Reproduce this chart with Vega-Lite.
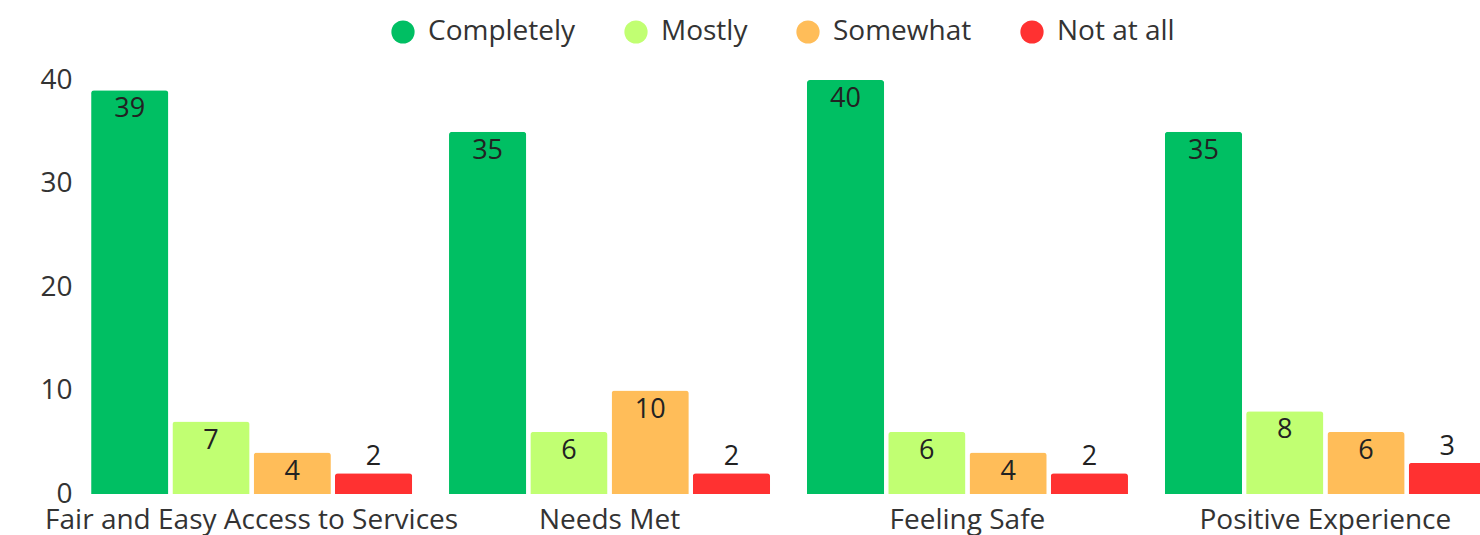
{
  "$schema": "https://vega.github.io/schema/vega-lite/v6.json",
  "width": 1400,
  "height": 414,
  "autosize": {"type": "none"},
  "padding": {"left": 80, "top": 80, "right": 0, "bottom": 41},
  "config": {
    "view": {"stroke": null},
    "font": "Open Sans",
    "legend": {
      "orient": "none",
      "legendX": 309,
      "legendY": -62,
      "direction": "horizontal",
      "symbolType": "circle",
      "symbolSize": 540,
      "symbolStrokeWidth": 0,
      "labelFontSize": 28,
      "labelColor": "#333333",
      "labelOffset": 11,
      "columnPadding": 46
    }
  },
  "data": {
    "values": [
      {"group": "Fair and Easy Access to Services", "response": "Completely", "value": 39},
      {"group": "Fair and Easy Access to Services", "response": "Mostly", "value": 7},
      {"group": "Fair and Easy Access to Services", "response": "Somewhat", "value": 4},
      {"group": "Fair and Easy Access to Services", "response": "Not at all", "value": 2},
      {"group": "Needs Met", "response": "Completely", "value": 35},
      {"group": "Needs Met", "response": "Mostly", "value": 6},
      {"group": "Needs Met", "response": "Somewhat", "value": 10},
      {"group": "Needs Met", "response": "Not at all", "value": 2},
      {"group": "Feeling Safe", "response": "Completely", "value": 40},
      {"group": "Feeling Safe", "response": "Mostly", "value": 6},
      {"group": "Feeling Safe", "response": "Somewhat", "value": 4},
      {"group": "Feeling Safe", "response": "Not at all", "value": 2},
      {"group": "Positive Experience", "response": "Completely", "value": 35},
      {"group": "Positive Experience", "response": "Mostly", "value": 8},
      {"group": "Positive Experience", "response": "Somewhat", "value": 6},
      {"group": "Positive Experience", "response": "Not at all", "value": 3}
    ]
  },
  "encoding": {
    "x": {
      "field": "group",
      "type": "nominal",
      "sort": ["Fair and Easy Access to Services", "Needs Met", "Feeling Safe", "Positive Experience"],
      "scale": {"range": [0, 1417], "paddingInner": 0.103, "paddingOuter": 0.031},
      "axis": {
        "title": null,
        "labelAngle": 0,
        "domain": false,
        "ticks": false,
        "labelFontSize": 28,
        "labelColor": "#333333",
        "labelPadding": 12,
        "labelLimit": 0
      }
    },
    "xOffset": {
      "field": "response",
      "type": "nominal",
      "sort": ["Completely", "Mostly", "Somewhat", "Not at all"],
      "scale": {"paddingInner": 0.05, "paddingOuter": 0}
    },
    "y": {
      "field": "value",
      "type": "quantitative",
      "scale": {"domain": [0, 40]},
      "axis": {
        "title": null,
        "values": [0, 10, 20, 30, 40],
        "grid": false,
        "domain": false,
        "ticks": false,
        "labelFontSize": 28,
        "labelColor": "#333333",
        "labelPadding": 8
      }
    }
  },
  "layer": [
    {
      "mark": {"type": "bar", "cornerRadiusTopLeft": 3, "cornerRadiusTopRight": 3},
      "encoding": {
        "color": {
          "field": "response",
          "type": "nominal",
          "sort": ["Completely", "Mostly", "Somewhat", "Not at all"],
          "scale": {
            "domain": ["Completely", "Mostly", "Somewhat", "Not at all"],
            "range": ["#00BF63", "#C1FF72", "#FFBD59", "#FF3131"]
          },
          "legend": {"title": null}
        }
      }
    },
    {
      "transform": [{"filter": "datum.value > 3"}],
      "mark": {"type": "text", "baseline": "middle", "dy": 19, "fontSize": 27, "color": "#222222"},
      "encoding": {"text": {"field": "value", "type": "quantitative"}}
    },
    {
      "transform": [{"filter": "datum.value <= 3"}],
      "mark": {"type": "text", "baseline": "middle", "dy": -16, "fontSize": 27, "color": "#222222"},
      "encoding": {"text": {"field": "value", "type": "quantitative"}}
    }
  ]
}
